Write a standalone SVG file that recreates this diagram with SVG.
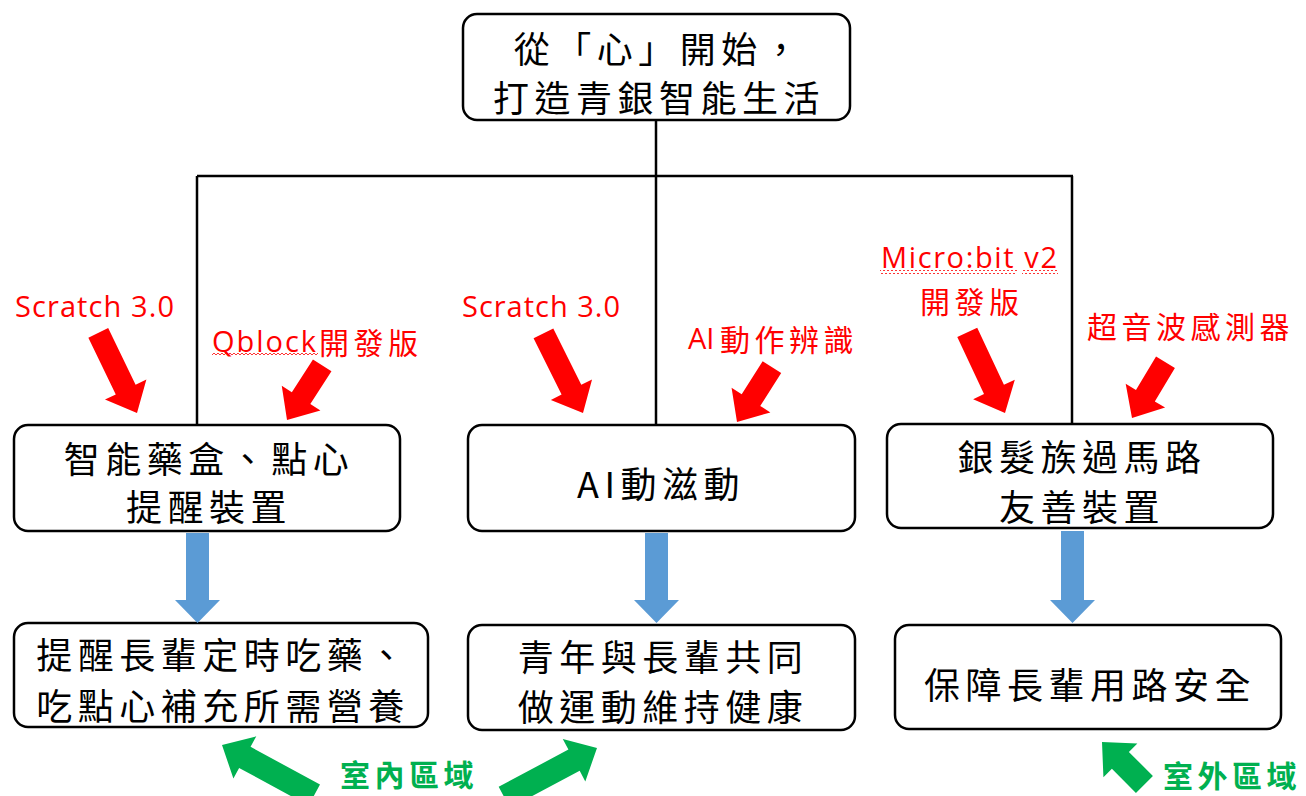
<svg xmlns="http://www.w3.org/2000/svg" width="1306" height="796" viewBox="0 0 1306 796">
<style>
.box{fill:#fff;stroke:#000;stroke-width:2.5}
.t{font-family:"Noto Sans CJK TC","Noto Sans CJK SC",sans-serif;font-size:36px;letter-spacing:5.5px;text-anchor:middle;dominant-baseline:central;fill:#000}
.ln{stroke:#000;stroke-width:2.5;fill:none}
.red{fill:#ff0000}
.green{fill:#00b050}
.blue{fill:#5b9bd5}
.lat{font-family:"Open Sans","Liberation Sans",sans-serif;font-size:29px;fill:#ff0000}
.rc{font-family:"Noto Sans CJK TC","Noto Sans CJK SC",sans-serif;font-size:30px;fill:#ff0000;letter-spacing:4.5px}
.gc{font-family:"Noto Sans CJK TC","Noto Sans CJK SC",sans-serif;font-size:30px;fill:#00b050;letter-spacing:4.5px;font-weight:bold}
</style>
<defs>
<path id="redLong" d="M0,0 L-26,-23 L-26,-11 L-89,-11 L-89,11 L-26,11 L-26,23 Z"/>
<path id="redShort" d="M0,0 L-26,-23 L-26,-11 L-65,-11 L-65,11 L-26,11 L-26,23 Z"/>
<path id="greenLong" d="M0,0 L-26,-24 L-26,-12 L-105,-12 L-105,12 L-26,12 L-26,24 Z"/>
<path id="greenShort" d="M0,0 L-26,-24 L-26,-12 L-60,-12 L-60,12 L-26,12 L-26,24 Z"/>
<pattern id="wave" width="4" height="4" patternUnits="userSpaceOnUse">
<path d="M0,3 L2,1 L4,3" stroke="#ff0000" stroke-width="0.8" fill="none"/>
</pattern>
</defs>

<g id="connectors">
<path class="ln" d="M656,120 V176 M197,176 H1073 M197,176 V425 M656,176 V425 M1072,176 V424"/>
</g>

<g id="node-top">
<rect class="box" x="463" y="14" width="387" height="106" rx="14"/>
<text class="t" x="659" y="47">從「心」開始，</text>
<text class="t" x="659" y="96">打造青銀智能生活</text>
</g>

<g id="node-pillbox">
<rect class="box" x="14" y="425" width="386" height="106" rx="14"/>
<text class="t" x="209" y="457">智能藥盒、點心</text>
<text class="t" x="209" y="505">提醒裝置</text>
</g>

<g id="node-ai">
<rect class="box" x="468" y="425" width="387" height="106" rx="14"/>
<text class="t" x="661" y="482">AI動滋動</text>
</g>

<g id="node-crossing">
<rect class="box" x="887" y="424" width="386" height="104" rx="14"/>
<text class="t" x="1082" y="455">銀髮族過馬路</text>
<text class="t" x="1082" y="505">友善裝置</text>
</g>

<g id="node-remind">
<rect class="box" x="14" y="623" width="414" height="104" rx="14"/>
<text class="t" x="223" y="653">提醒長輩定時吃藥、</text>
<text class="t" x="223" y="704">吃點心補充所需營養</text>
</g>

<g id="node-exercise">
<rect class="box" x="468" y="625" width="387" height="105" rx="14"/>
<text class="t" x="663" y="655">青年與長輩共同</text>
<text class="t" x="663" y="705">做運動維持健康</text>
</g>

<g id="node-safety">
<rect class="box" x="895" y="625" width="386" height="104" rx="14"/>
<text class="t" x="1090" y="683">保障長輩用路安全</text>
</g>

<g id="blue-arrows">
<path class="blue" d="M186,533 H209 V600 H220 L197.5,623 L175,600 H186 Z"/>
<path class="blue" d="M645,533 H668 V600 H679 L656.5,623 L634,600 H645 Z"/>
<path class="blue" d="M1061,531 H1084 V600 H1095 L1072.5,623 L1050,600 H1061 Z"/>
</g>

<g id="red-arrows" class="red">
<use href="#redLong" transform="translate(137,413) rotate(64.2)"/>
<use href="#redShort" transform="translate(287,420) rotate(122.8)"/>
<use href="#redLong" transform="translate(583,413) rotate(63.6)"/>
<use href="#redShort" transform="translate(737,422) rotate(122.5)"/>
<use href="#redLong" transform="translate(1005,413) rotate(64.9)"/>
<use href="#redShort" transform="translate(1132,418) rotate(121)"/>
</g>

<g id="red-labels">
<text class="lat" x="15" y="317" textLength="159" lengthAdjust="spacing">Scratch 3.0</text>
<text class="lat" x="462" y="317" textLength="158" lengthAdjust="spacing">Scratch 3.0</text>
<text class="lat" x="212" y="352" textLength="104" lengthAdjust="spacing">Qblock</text>
<text class="rc" x="319" y="354">開發版</text>
<rect x="212" y="353" width="106" height="4" fill="url(#wave)"/>
<text class="lat" x="688" y="349">AI</text>
<text class="rc" x="720" y="351">動作辨識</text>
<text class="lat" x="881" y="268" textLength="176" lengthAdjust="spacing">Micro:bit v2</text>
<rect x="880" y="270" width="137" height="4" fill="url(#wave)"/>
<rect x="1022" y="270" width="36" height="4" fill="url(#wave)"/>
<text class="rc" x="920" y="313">開發版</text>
<text class="rc" x="1087" y="338">超音波感測器</text>
</g>

<g id="green-arrows" class="green">
<use href="#greenLong" transform="translate(222,745) rotate(208.5)"/>
<use href="#greenLong" transform="translate(597,748) rotate(-28)"/>
<use href="#greenShort" transform="translate(1102,742) rotate(225)"/>
</g>

<g id="green-labels">
<text class="gc" x="340" y="786">室內區域</text>
<text class="gc" x="1163" y="787" letter-spacing="3.5">室外區域</text>
</g>
</svg>
